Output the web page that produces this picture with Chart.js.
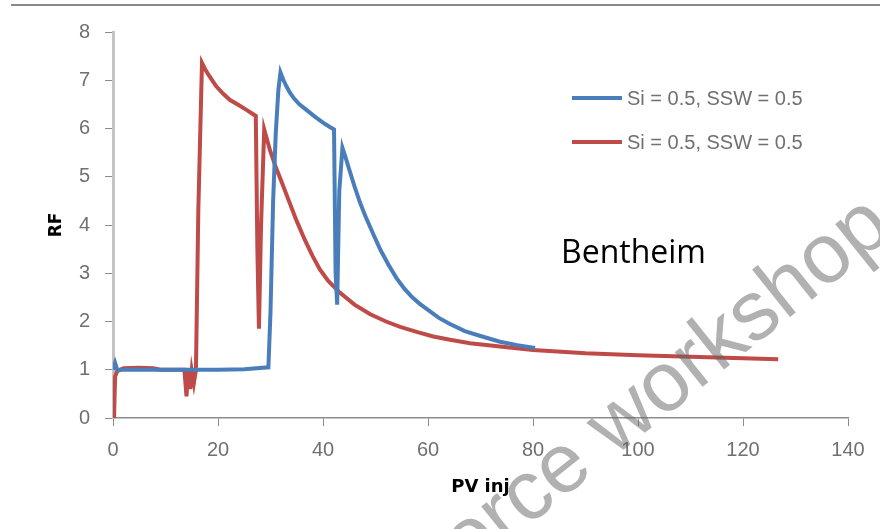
<!DOCTYPE html>
<html>
<head>
<meta charset="utf-8">
<script src="https://cdn.jsdelivr.net/npm/chart.js@4.4.1/dist/chart.umd.min.js"></script>
<style>
  html, body { margin: 0; padding: 0; background: #fff; }
</style>
</head>
<body>
<canvas id="myChart" width="880" height="529"></canvas>
<script>
// series data (PV inj vs RF)
const blueLabel = 'Si = 0.5, SSW = 0.5';
const blueX = [0, 0.4, 0.8, 2, 5, 10, 15, 20, 25, 29.6, 30.0, 30.5, 31.0, 31.5, 31.9, 32.4, 33.0, 33.7, 34.5, 35.5, 36.9, 38.5, 40, 41.3, 42.1, 42.4, 42.7, 43.1, 43.7, 44.3, 45, 46, 47, 48, 49.5, 51, 52.5, 54, 55.5, 57, 58.5, 60, 62, 64, 67, 70, 73.7, 77, 80.4];
const blueY = [1.0, 1.14, 1.0, 1.0, 1.0, 1.0, 1.0, 1.0, 1.01, 1.05, 2.2, 4.5, 5.9, 6.8, 7.16, 7.02, 6.88, 6.74, 6.62, 6.5, 6.38, 6.24, 6.12, 6.03, 5.98, 3.0, 2.35, 4.7, 5.6, 5.4, 5.15, 4.8, 4.48, 4.2, 3.83, 3.47, 3.17, 2.9, 2.68, 2.5, 2.36, 2.24, 2.08, 1.96, 1.8, 1.7, 1.58, 1.51, 1.45];

const redLabel = 'Si = 0.5, SSW = 0.5';
const redX = [0.2, 0.4, 0.8, 2, 5, 7.7, 9, 12, 13.6, 14.0, 14.3, 14.7, 15.0, 15.4, 15.8, 16.25, 16.95, 17.5, 18.15, 19, 19.7, 21, 22.3, 24, 25.5, 27.2, 27.5, 27.8, 28.2, 28.8, 29.9, 31, 32.2, 33.5, 35, 36.5, 38, 39.4, 41, 43.2, 46, 49, 52, 54.7, 58, 61, 64.2, 68, 73.7, 80, 90, 100, 110, 120, 126.7];
const redY = [0.0, 0.86, 0.97, 1.03, 1.04, 1.03, 1.0, 1.0, 1.0, 0.45, 1.0, 0.6, 0.98, 0.72, 1.0, 4.3, 7.36, 7.24, 7.12, 6.98, 6.87, 6.72, 6.59, 6.48, 6.38, 6.26, 3.5, 1.85, 4.0, 5.98, 5.55, 5.2, 4.87, 4.5, 4.08, 3.7, 3.36, 3.08, 2.84, 2.6, 2.35, 2.15, 2.0, 1.89, 1.78, 1.69, 1.62, 1.55, 1.48, 1.41, 1.34, 1.3, 1.27, 1.24, 1.22];

const xTicks = { min: 0, max: 140, step: 20 };
const yTicks = { min: 0, max: 8, step: 1 };

const sampleName = 'Bentheim';
const watermarkText = 'Force workshop';

function toPoints(xs, ys) {
    return xs.map((x, i) => ({ x: x, y: ys[i] }));
}

const tickFont = { family: 'Liberation Sans', size: 20 };
const tickColor = '#707070';

// top rule, sample name, legend and watermark
const extras = {
    id: 'extras',
    beforeDraw(chart) {
        const ctx = chart.ctx;
        ctx.save();
        ctx.strokeStyle = '#8a8a8a';
        ctx.lineWidth = 2;
        ctx.beginPath();
        ctx.moveTo(11, 5);
        ctx.lineTo(880, 5);
        ctx.stroke();
        ctx.restore();
    },
    afterDraw(chart) {
        const ctx = chart.ctx;
        ctx.save();

        // legend
        chart.data.datasets.forEach((ds, i) => {
            const y = 98 + i * 44;
            ctx.strokeStyle = ds.borderColor;
            ctx.lineWidth = 4;
            ctx.beginPath();
            ctx.moveTo(572, y);
            ctx.lineTo(622, y);
            ctx.stroke();
            ctx.fillStyle = tickColor;
            ctx.font = '20px "Liberation Sans"';
            ctx.textBaseline = 'middle';
            ctx.fillText(ds.label, 627, y + 1);
        });

        // sample name
        ctx.fillStyle = '#000';
        ctx.font = '32px "Open Sans"';
        ctx.textBaseline = 'alphabetic';
        ctx.fillText(sampleName, 561, 263);

        // watermark
        ctx.translate(428, 606);
        ctx.rotate(-38.6 * Math.PI / 180);
        ctx.fillStyle = 'rgba(100,100,100,0.5)';
        ctx.font = '84px "Liberation Sans"';
        ctx.fillText(watermarkText, 0, 0);
        ctx.restore();
    }
};

const myChart = new Chart(document.getElementById('myChart'), {
    type: 'line',
    data: {
        datasets: [{
            label: blueLabel,
            data: toPoints(blueX, blueY),
            borderColor: '#4a7ebb',
            borderWidth: 4,
            pointRadius: 0,
            tension: 0
        }, {
            label: redLabel,
            data: toPoints(redX, redY),
            borderColor: '#be4b48',
            borderWidth: 4,
            pointRadius: 0,
            tension: 0
        }]
    },
    options: {
        responsive: false,
        animation: false,
        layout: { padding: { left: 0, top: 32, right: 32, bottom: 0 } },
        plugins: {
            legend: { display: false },
            tooltip: { enabled: false }
        },
        scales: {
            x: {
                type: 'linear',
                min: xTicks.min,
                max: xTicks.max,
                ticks: { stepSize: xTicks.step, color: tickColor, font: tickFont, padding: 12, maxRotation: 0 },
                grid: { drawOnChartArea: false, tickLength: 8, color: '#8c8c8c' },
                border: { color: '#8c8c8c', width: 1.5 },
                title: {
                    display: true, text: 'PV inj', color: '#000',
                    font: { family: 'DejaVu Sans', size: 18, weight: 'bold' },
                    padding: { top: 0, bottom: 31 }
                },
                afterFit: s => { s.height = 111; }
            },
            y: {
                min: yTicks.min,
                max: yTicks.max,
                ticks: { stepSize: yTicks.step, color: tickColor, font: tickFont, padding: 15 },
                grid: { drawOnChartArea: false, tickLength: 8, color: '#8c8c8c' },
                border: { color: '#c4c4c4', width: 3 },
                title: {
                    display: true, text: 'RF', color: '#000',
                    font: { family: 'DejaVu Sans', size: 17, weight: 'bold' },
                    padding: { top: 46, bottom: 0 }
                },
                afterFit: s => { s.width = 113; }
            }
        }
    },
    plugins: [extras]
});
</script>
</body>
</html>
